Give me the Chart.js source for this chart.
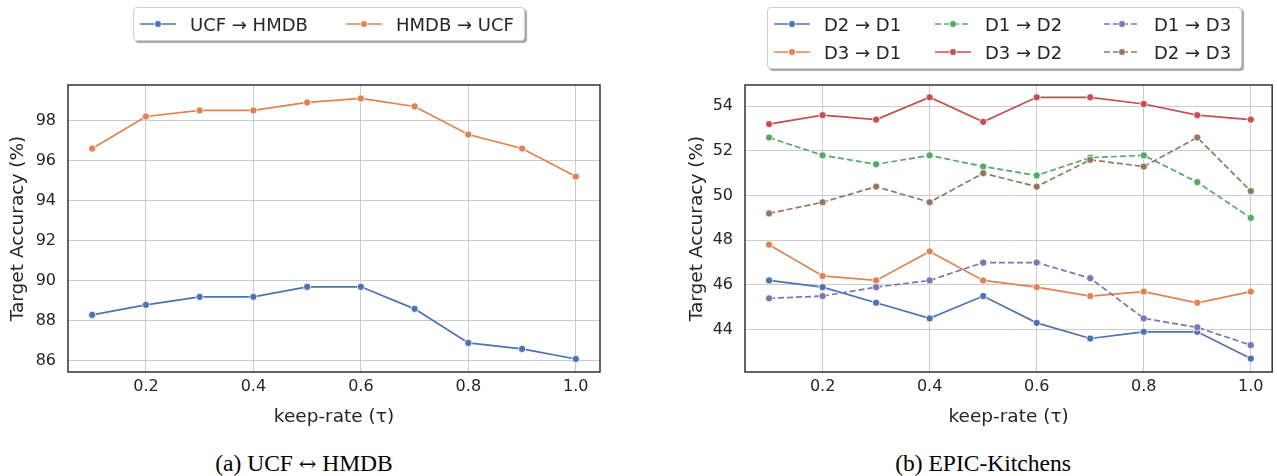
<!DOCTYPE html>
<html>
<head>
<meta charset="utf-8">
<script src="https://cdn.jsdelivr.net/npm/chart.js@4.4.0/dist/chart.umd.min.js"></script>
<style>
  html, body { margin: 0; padding: 0; background: #fff; }
  body { width: 1277px; height: 476px; position: relative; overflow: hidden; font-family: 'DejaVu Sans', sans-serif; color: #262626; }
  .panel { position: absolute; top: 0; height: 440px; }
  #panelA { left: 0; width: 640px; }
  #panelB { left: 660px; width: 617px; }
  .legend { position: absolute; background: #fff; border: 1px solid #d0d0d0; border-radius: 4px; box-shadow: 2px 2px 1px #a8a8a8; display: grid; font-size: 18px; box-sizing: border-box; }
  #legendA { left: 133px; top: 7px; width: 392px; height: 34px; padding: 2px 0 0 6px; grid-template-columns: 206px 180px; }
  #legendB { left: 767px; top: 7px; width: 475px; height: 62px; padding: 2px 0 0 6px; grid-template-columns: 161px 169px auto; grid-template-rows: 28px 28px; grid-auto-flow: column; }
  .item { display: flex; align-items: center; height: 28px; white-space: nowrap; }
  .item svg { margin-right: 14px; flex: none; }
  .caption { position: absolute; top: 449px; width: 400px; text-align: center; font-family: 'Liberation Serif', serif; font-size: 23.5px; line-height: 28px; color: #000; }
  .caption .arr { font-family: 'DejaVu Serif', serif; font-size: 21px; }
</style>
</head>
<body>
<div class="panel" id="panelA"><canvas id="chartA"></canvas></div>
<div class="panel" id="panelB"><canvas id="chartB"></canvas></div>
<div class="legend" id="legendA"></div>
<div class="legend" id="legendB"></div>
<div class="caption" style="left:104px">(a) UCF <span class="arr">↔</span> HMDB</div>
<div class="caption" style="left:783px">(b) EPIC-Kitchens</div>
<script>
// keep-rate values on the x axis
const keepRates = [0.1, 0.2, 0.3, 0.4, 0.5, 0.6, 0.7, 0.8, 0.9, 1.0];
const xTicks = [0.2, 0.4, 0.6, 0.8, 1.0];

// (a) UCF <-> HMDB
const labelsA = ['UCF → HMDB', 'HMDB → UCF'];
const ucfToHmdb = [88.3, 88.8, 89.2, 89.2, 89.7, 89.7, 88.6, 86.9, 86.6, 86.1];
const hmdbToUcf = [96.6, 98.2, 98.5, 98.5, 98.9, 99.1, 98.7, 97.3, 96.6, 95.2];
const yTicksA = [86, 88, 90, 92, 94, 96, 98];

// (b) EPIC-Kitchens
const labelsB = ['D2 → D1', 'D3 → D1', 'D1 → D2', 'D3 → D2', 'D1 → D3', 'D2 → D3'];
const d2ToD1 = [46.2, 45.9, 45.2, 44.5, 45.5, 44.3, 43.6, 43.9, 43.9, 42.7];
const d3ToD1 = [47.8, 46.4, 46.2, 47.5, 46.2, 45.9, 45.5, 45.7, 45.2, 45.7];
const d1ToD2 = [52.6, 51.8, 51.4, 51.8, 51.3, 50.9, 51.7, 51.8, 50.6, 49.0];
const d3ToD2 = [53.2, 53.6, 53.4, 54.4, 53.3, 54.4, 54.4, 54.1, 53.6, 53.4];
const d1ToD3 = [45.4, 45.5, 45.9, 46.2, 47.0, 47.0, 46.3, 44.5, 44.1, 43.3];
const d2ToD3 = [49.2, 49.7, 50.4, 49.7, 51.0, 50.4, 51.6, 51.3, 52.6, 50.2];
const yTicksB = [44, 46, 48, 50, 52, 54];

// seaborn "deep" palette
const palette = ['#4c72b0', '#dd8452', '#55a868', '#c44e52', '#8172b3', '#937860'];
const dash = [6, 3];

const textColor = '#262626';

function makeDataset(label, values, color, dashed, i) {
  return {
    label: label,
    data: values.map((v, k) => ({ x: keepRates[k], y: v })),
    borderColor: color,
    backgroundColor: color,
    borderWidth: 1.7,
    borderDash: dashed ? dash : [],
    pointRadius: 3.6,
    pointBackgroundColor: color,
    pointBorderColor: '#ffffff',
    pointBorderWidth: 0.8,
    tension: 0,
    order: 10 - i
  };
}

// dark frame around the plot area
const framePlugin = {
  id: 'frame',
  afterDraw(chart) {
    const a = chart.chartArea;
    const ctx = chart.ctx;
    ctx.save();
    ctx.strokeStyle = '#333333';
    ctx.lineWidth = 1.5;
    ctx.strokeRect(a.left, a.top, a.right - a.left, a.bottom - a.top);
    ctx.restore();
  }
};

function makeChart(id, datasets, opts) {
  return new Chart(document.getElementById(id).getContext('2d'), {
    type: 'line',
    data: { datasets: datasets },
    options: {
      responsive: true,
      maintainAspectRatio: false,
      animation: false,
      layout: { padding: { top: 85, right: opts.rightPad, left: 0, bottom: 0 } },
      plugins: { legend: { display: false }, tooltip: { enabled: false } },
      scales: {
        x: {
          type: 'linear',
          min: 0.055,
          max: opts.xMax,
          afterBuildTicks: s => { s.ticks = xTicks.map(v => ({ value: v })); },
          afterFit: s => { s.height = 68; },
          grid: { color: '#cccccc', lineWidth: 1, drawTicks: false },
          border: { display: false },
          ticks: {
            padding: 5,
            color: textColor,
            font: { family: 'DejaVu Sans', size: 16 },
            callback: v => v.toFixed(1)
          },
          title: {
            display: true,
            text: 'keep-rate (τ)',
            color: textColor,
            font: { family: 'DejaVu Sans', size: 18.5 },
            padding: { top: 0, bottom: 12 }
          }
        },
        y: {
          min: opts.yMin,
          max: opts.yMax,
          afterBuildTicks: s => { s.ticks = opts.yTicks.map(v => ({ value: v })); },
          afterFit: s => { s.width = opts.yWidth; },
          grid: { color: '#cccccc', lineWidth: 1, drawTicks: false },
          border: { display: false },
          ticks: {
            padding: 12,
            color: textColor,
            font: { family: 'DejaVu Sans', size: 16 }
          },
          title: {
            display: true,
            text: 'Target Accuracy (%)',
            color: textColor,
            font: { family: 'DejaVu Sans', size: 18.5 },
            padding: { top: opts.yTitlePad, bottom: 0 }
          }
        }
      }
    },
    plugins: [framePlugin]
  });
}

const seriesA = [ucfToHmdb, hmdbToUcf];
const dashedA = [false, false];
const seriesB = [d2ToD1, d3ToD1, d1ToD2, d3ToD2, d1ToD3, d2ToD3];
const dashedB = [false, false, true, false, true, true];

makeChart('chartA',
  seriesA.map((s, i) => makeDataset(labelsA[i], s, palette[i], dashedA[i], i)),
  { rightPad: 40, xMax: 1.045, yMin: 85.45, yMax: 99.77, yTicks: yTicksA, yWidth: 68, yTitlePad: 7 });

makeChart('chartB',
  seriesB.map((s, i) => makeDataset(labelsB[i], s, palette[i], dashedB[i], i)),
  { rightPad: 1, xMax: 1.04, yMin: 42.1, yMax: 54.95, yTicks: yTicksB, yWidth: 85, yTitlePad: 26 });

// html legends
function buildLegend(id, labels, dashed) {
  const box = document.getElementById(id);
  labels.forEach((label, i) => {
    const item = document.createElement('div');
    item.className = 'item';
    const da = dashed[i] ? ' stroke-dasharray="6 3"' : '';
    item.innerHTML =
      '<svg width="36" height="12"><line x1="0" y1="6" x2="36" y2="6" stroke="' + palette[i] +
      '" stroke-width="1.6"' + da + '/><circle cx="18" cy="6" r="3.5" fill="' + palette[i] +
      '" stroke="#fff" stroke-width="0.8"/></svg><span>' + label + '</span>';
    box.appendChild(item);
  });
}
buildLegend('legendA', labelsA, dashedA);
buildLegend('legendB', labelsB, dashedB);
</script>
</body>
</html>
